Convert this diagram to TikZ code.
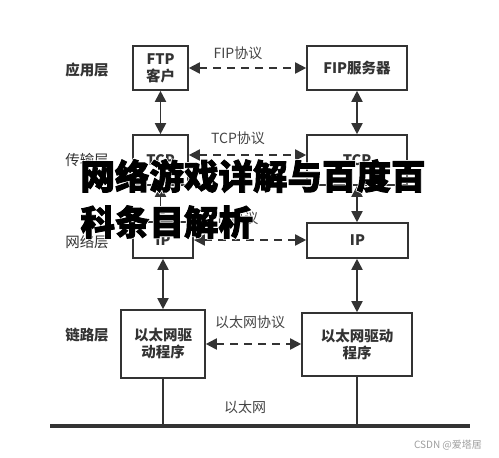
\documentclass[tikz,border=0pt]{standalone}
\usepackage{fontspec}
\setmainfont{Noto Sans CJK SC}
\newfontfamily\titlefont{Noto Sans CJK SC}[FakeBold=2.6]
\newfontfamily\halofont{Noto Sans CJK SC}[FakeBold=7]
\usetikzlibrary{arrows.meta}

\begin{document}
\begin{tikzpicture}[x=1pt,y=-1pt,
  box/.style={draw=kDark,line width=1.6pt,inner sep=0pt,align=center,text=kDark,
    font=\bfseries\fontsize{14.5}{17}\selectfont},
  proto/.style={text=kText,font=\fontsize{14}{16}\selectfont},
  link/.style={draw=kDark,line width=1.8pt,{Triangle[length=11pt,width=11pt]}-{Triangle[length=11pt,width=11pt]}},
  peer/.style={link,dash pattern=on 8pt off 6pt},
  headline/.style={anchor=west,text=black,font=\titlefont\bfseries\fontsize{34.5}{40}\selectfont},
  halo/.style={anchor=west,text=white,font=\halofont\bfseries\fontsize{34.5}{40}\selectfont}]
  % colors
  \definecolor{kDark}{rgb}{0.2,0.2,0.2}
  \definecolor{kText}{rgb}{0.27,0.27,0.27}
  \definecolor{kMark}{rgb}{0.62,0.62,0.62}
  \useasboundingbox[fill=white] (0,0) rectangle (499,458);
  % layers
  \foreach \y/\txt/\wt in {70/应用层/\bfseries, 160/传输层/, 242/网络层/, 335/链路层/\bfseries}
    \node[text=kDark,font=\wt\fontsize{14.5}{16}\selectfont] at (87,\y) {\txt};
  % boxes
  \node[box,minimum width=55,minimum height=44] (ftp) at (160.5,68) {FTP\\客户};
  \node[box,minimum width=100,minimum height=44] (fips) at (357,68) {FIP服务器};
  \node[box,minimum width=55,minimum height=50] (tcpL) at (160.5,160) {TCP};
  \node[box,minimum width=100,minimum height=50] (tcpR) at (357,160) {TCP};
  \node[box,minimum width=60,minimum height=36] (ipL) at (163,240) {IP};
  \node[box,minimum width=101,minimum height=35] (ipR) at (357.5,240.5) {IP};
  \node[box,minimum width=84,minimum height=68] (ethL) at (163,344) {以太网驱\\动程序};
  \node[box,minimum width=110,minimum height=63] (ethR) at (357,344.5) {以太网驱动\\程序};
  % protocols
  \node[proto] (pFip) at (238,53) {FIP协议};
  \node[proto] (pTcp) at (238,138) {TCP协议};
  \node[proto] (pIp) at (238,218) {IP协议};
  \node[proto] (pEth) at (250,322) {以太网协议};
  \draw[peer] (ftp.east) -- (fips.west);
  \draw[peer] ([yshift=5pt]tcpL.east) -- ([yshift=5pt]tcpR.west);
  \draw[peer] (ipL.east) -- (ipL.east -| ipR.west);
  \draw[peer] (ethL.east) -- (ethL.east -| ethR.west);
  % stack
  \draw[link] (ftp.south) -- (ftp.south |- tcpL.north);
  \draw[link] (tcpL.south) -- (tcpL.south |- ipL.north);
  \draw[link] (ipL.south) -- (ethL.north);
  \draw[link] (fips.south) -- (tcpR.north);
  \draw[link] (tcpR.south) -- (tcpR.south |- ipR.north);
  \draw[link] (ipR.south -| ethR.north) -- (ethR.north);
  % ethernet
  \coordinate (busL) at (50,426);
  \coordinate (busR) at (470,426);
  \draw[kDark,line width=4pt] (busL) -- (busR);
  \draw[kDark,line width=1.8pt] (ethL.south) -- (ethL.south |- busL);
  \draw[kDark,line width=1.8pt] (ethR.south) -- (ethR.south |- busL);
  \node[proto] (pBus) at (245,407) {以太网};
  \node[text=kMark,font=\fontsize{10}{12}\selectfont] (mark) at (448,445) {CSDN @爱塔居};
  % headline
  \node[halo] (h1) at (77,176) {网络游戏详解与百度百};
  \node[halo] (h2) at (77,222) {科条目解析};
  \node[headline] (t1) at (77,176) {网络游戏详解与百度百};
  \node[headline] (t2) at (77,222) {科条目解析};
\end{tikzpicture}
\end{document}
